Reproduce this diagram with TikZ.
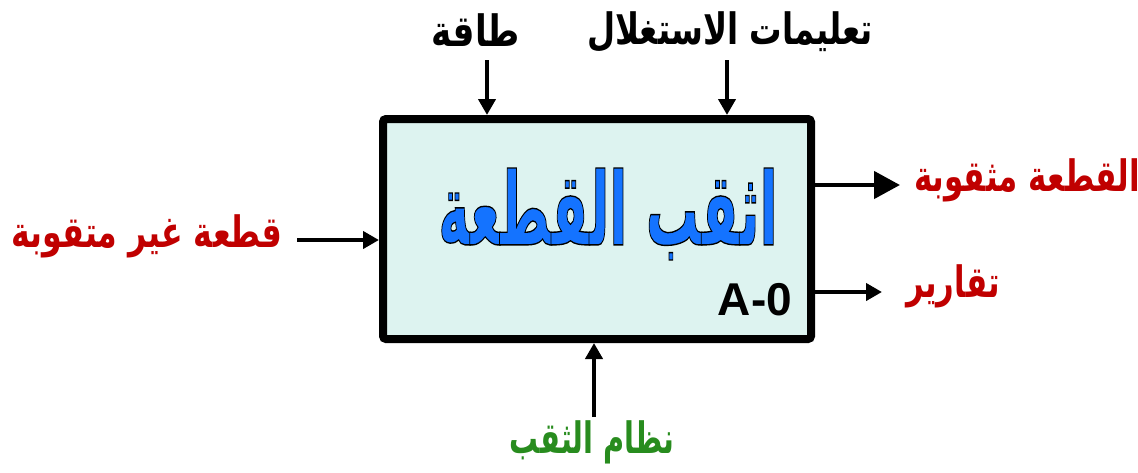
\documentclass[tikz,border=0pt]{standalone}
\usepackage{fontspec}
\usetikzlibrary{arrows.meta}
\TeXXeTstate=1
\newfontfamily\arabicbold[Script=Arabic]{DejaVu Sans Bold}
\setsansfont{Liberation Sans}
\definecolor{boxfill}{RGB}{221,243,240}
\definecolor{labred}{RGB}{192,0,0}
\definecolor{labgreen}{RGB}{40,140,30}
\definecolor{titleblue}{RGB}{20,115,255}
% outlined glyphs: fill with current colour, stroke in black
\newcommand{\outlinedtext}[1]{\special{pdf:literal 2 Tr 1.2 w 0 G}#1\special{pdf:literal 0 Tr}}
\tikzset{
  flow/.style={line width=4pt, -{Triangle[length=16pt,width=17pt]}},
  bigflow/.style={line width=4.5pt, -{Triangle[length=26pt,width=27pt]}},
  lab/.style={font=\fontsize{36}{42}\selectfont\arabicbold, inner sep=0pt, yscale=1.2},
  activity/.style={draw, line width=8pt, fill=boxfill, rounded corners=3pt,
    minimum width=428pt, minimum height=220pt, inner sep=0pt},
}
\begin{document}
\begin{tikzpicture}[x=1pt,y=-1pt]
\useasboundingbox (0,0) rectangle (1138,472);
% activity box (anchors lie on the outer edge of the frame)
\node (box) at (597,229) [activity] {};
\node (title) at (608,214) [inner sep=0pt, text=titleblue, xscale=0.6, yscale=1.15,
  font=\fontsize{88}{96}\selectfont\arabicbold]
  {\outlinedtext{\beginR اثقب القطعة\endR}};
\node (code) at (755,300) [inner sep=0pt, font=\fontsize{46}{50}\selectfont\sffamily\bfseries] {A-0};
% controls
\node (energy) at (476,30) [lab, xscale=0.95] {\beginR طاقة\endR};
\node (instr) at (730,32) [lab, xscale=0.9] {\beginR تعليمات الاستغلال\endR};
\coordinate (e1) at (487,60);
\coordinate (i1) at (727,60);
\draw[flow] (e1) -- (e1 |- box.north);
\draw[flow] (i1) -- (i1 |- box.north);
% input
\node (inp) at (147,236) [lab, xscale=0.88, text=labred] {\beginR قطعة غير متقوبة\endR};
\coordinate (in0) at (297,240);
\draw[flow] (in0) -- (in0 -| box.west);
% outputs
\node (out1) at (1027,180) [lab, xscale=0.86, text=labred] {\beginR القطعة مثقوبة\endR};
\node (out2) at (953,286) [lab, xscale=0.85, text=labred] {\beginR تقارير\endR};
\coordinate (o1) at (box.east |- 0,185);
\coordinate (o2) at (box.east |- 0,292);
\draw[bigflow] (o1) -- (900,185);
\draw[flow] (o2) -- (882,292);
% mechanism
\node (mech) at (592,442) [lab, xscale=0.8, text=labgreen] {\beginR نظام الثقب\endR};
\coordinate (m1) at (594,417);
\draw[flow] (m1) -- (m1 |- box.south);
\end{tikzpicture}
\end{document}
